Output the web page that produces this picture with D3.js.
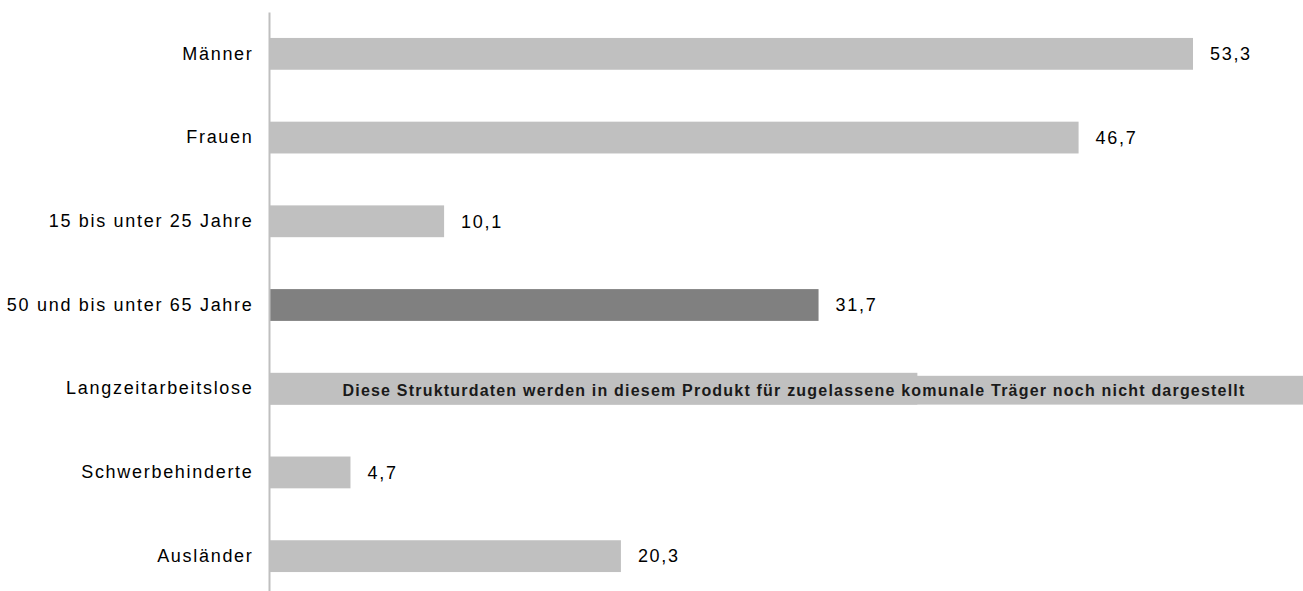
<!DOCTYPE html>
<html>
<head>
<meta charset="utf-8">
<script src="https://cdn.jsdelivr.net/npm/d3@7"></script>
<style>
  body { margin: 0; background: #fff; }
  text { font-family: "Liberation Sans", Arial, sans-serif; }
</style>
</head>
<body>
<div id="chart"></div>
<script>
// Chart data
var categories = ["Männer", "Frauen", "15 bis unter 25 Jahre", "50 und bis unter 65 Jahre",
  "Langzeitarbeitslose", "Schwerbehinderte", "Ausländer"];
var values = [53.3, 46.7, 10.1, 31.7, 37.4, 4.7, 20.3];
var valueLabels = ["53,3", "46,7", "10,1", "31,7", "", "4,7", "20,3"];
var highlighted = ["50 und bis unter 65 Jahre"];
var hiddenCategory = "Langzeitarbeitslose";
var hiddenNote = "Diese Strukturdaten werden in diesem Produkt für zugelassene komunale Träger noch nicht dargestellt";

var svgWidth = 1303;
var svgHeight = 591;

var margin = { top: 12, right: 0, bottom: -7, left: 269 };
var chartWidth = svgWidth - margin.left - margin.right;
var chartHeight = svgHeight - margin.top - margin.bottom;

var svg = d3.select("#chart")
  .append("svg")
  .attr("width", svgWidth)
  .attr("height", svgHeight);

var chartGroup = svg.append("g")
  .attr("transform", "translate(" + margin.left + ", " + margin.top + ")");

var yBand = d3.scaleBand()
  .domain(categories)
  .range([0, chartHeight])
  .paddingInner(0.62)
  .paddingOuter(0.31);

// 53,3 ends at x=1193
var xScale = d3.scaleLinear().domain([0, 53.3]).range([0, 924]);

var data = categories.map(function (c, i) {
  return { cat: c, value: values[i], label: valueLabels[i] };
});

// bars
chartGroup.selectAll(".bar")
  .data(data)
  .enter()
  .append("rect")
  .attr("class", "bar")
  .attr("x", 0)
  .attr("y", function (d) { return yBand(d.cat); })
  .attr("width", function (d) { return xScale(d.value); })
  .attr("height", yBand.bandwidth())
  .attr("fill", function (d) {
    return highlighted.indexOf(d.cat) >= 0 ? "#808080" : "#c0c0c0";
  });

// value labels
chartGroup.selectAll(".val")
  .data(data.filter(function (d) { return d.label !== ""; }))
  .enter()
  .append("text")
  .attr("class", "val")
  .attr("x", function (d) { return xScale(d.value) + 17; })
  .attr("y", function (d) { return yBand(d.cat) + yBand.bandwidth() / 2; })
  .attr("dy", "0.35em")
  .attr("font-size", 18)
  .attr("letter-spacing", 1.7)
  .attr("fill", "#000")
  .text(function (d) { return d.label; });

// note box over the hidden category
var noteY = yBand(hiddenCategory) + 3;
chartGroup.append("rect")
  .attr("x", 0)
  .attr("y", noteY)
  .attr("width", chartWidth)
  .attr("height", yBand.bandwidth() - 3)
  .attr("fill", "#c0c0c0");

chartGroup.append("text")
  .attr("x", 525)
  .attr("y", noteY + (yBand.bandwidth() - 3) / 2)
  .attr("dy", "0.35em")
  .attr("text-anchor", "middle")
  .attr("font-size", 16)
  .attr("font-weight", "bold")
  .attr("letter-spacing", 1.2)
  .attr("fill", "#1a1a1a")
  .text(hiddenNote);

// category axis
var leftAxis = d3.axisLeft(yBand).tickSize(0).tickPadding(15.5);
var axisG = chartGroup.append("g").call(leftAxis);
axisG.select(".domain").attr("stroke", "#bfbfbf").attr("stroke-width", 2);
axisG.selectAll("text")
  .attr("font-size", 18)
  .attr("letter-spacing", 1.7)
  .attr("font-family", "Liberation Sans, Arial, sans-serif")
  .attr("fill", "#000");
</script>
</body>
</html>
